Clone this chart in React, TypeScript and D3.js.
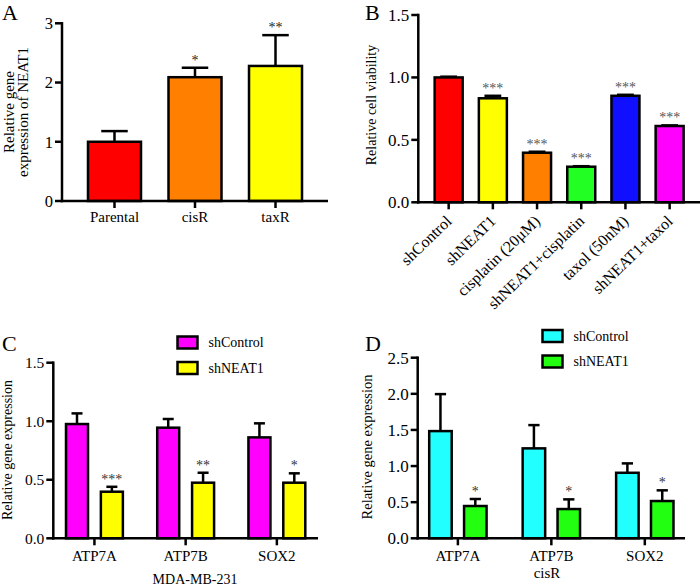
import React from "react";
import * as d3 from "d3";

const FONT = "Liberation Serif, DejaVu Serif, serif";

// Panel A: NEAT1 expression
const catsA = ["Parental", "cisR", "taxR"];
const meanA = [1.0, 2.09, 2.28];
const errA = [0.18, 0.16, 0.52];
const sigA = ["", "*", "**"];
const colorsA = ["#ff0000", "#ff8000", "#ffff00"];
const ticksA = [0, 1, 2, 3];

// Panel B: cell viability
const catsB = ["shControl", "shNEAT1", "cisplatin (20μM)", "shNEAT1+cisplatin", "taxol (50nM)", "shNEAT1+taxol"];
const meanB = [1.0, 0.833, 0.397, 0.285, 0.853, 0.611];
const errB = [0.006, 0.02, 0.008, 0.004, 0.008, 0.005];
const sigB = ["", "***", "***", "***", "***", "***"];
const colorsB = ["#ff0000", "#ffff00", "#ff8000", "#22ff22", "#1010ff", "#ff00ff"];
const ticksB = [0, 0.5, 1.0, 1.5];

// Panel C: MDA-MB-231
const genes = ["ATP7A", "ATP7B", "SOX2"];
const series = ["shControl", "shNEAT1"];
const ctrlC = [0.976, 0.945, 0.862];
const ctrlErrC = [0.091, 0.074, 0.12];
const neatC = [0.398, 0.475, 0.475];
const neatErrC = [0.042, 0.085, 0.08];
const sigC = ["***", "**", "*"];
const colorsC = ["#ff00ff", "#ffff00"];
const ticksC = [0, 0.5, 1.0, 1.5];

// Panel D: cisR
const ctrlD = [1.484, 1.245, 0.907];
const ctrlErrD = [0.512, 0.322, 0.13];
const neatD = [0.447, 0.405, 0.516];
const neatErrD = [0.097, 0.134, 0.148];
const sigD = ["*", "*", "*"];
const colorsD = ["#22ffff", "#22ff11"];
const ticksD = [0, 0.5, 1.0, 1.5, 2.0, 2.5];

const SW = 2.5;

function YAxis({ y, x0, ticks, fmt, fs }: { y: d3.ScaleLinear<number, number>; x0: number; ticks: number[]; fmt: (v: number) => string; fs: number }) {
  return (
    <g>
      <line x1={x0} x2={x0} y1={y(0) + SW / 2} y2={y(ticks[ticks.length - 1]) - SW / 2} stroke="#000" strokeWidth={SW} />
      {ticks.map((t) => (
        <g key={t}>
          <line x1={x0 - 7} x2={x0} y1={y(t)} y2={y(t)} stroke="#000" strokeWidth={SW} />
          <text x={x0 - 9} y={y(t)} dy="0.35em" textAnchor="end" fontSize={fs} fontFamily={FONT}>
            {fmt(t)}
          </text>
        </g>
      ))}
    </g>
  );
}

function XAxisLine({ y0, x0, x1, centers }: { y0: number; x0: number; x1: number; centers: number[] }) {
  return (
    <g>
      <line x1={x0 - SW / 2} x2={x1} y1={y0} y2={y0} stroke="#000" strokeWidth={SW} />
      {centers.map((c, i) => (
        <line key={i} x1={c} x2={c} y1={y0} y2={y0 + 7} stroke="#000" strokeWidth={SW} />
      ))}
    </g>
  );
}

function Bar({ cx, bw, v, e, y, fill, cap, sig, sigColor }: { cx: number; bw: number; v: number; e: number; y: d3.ScaleLinear<number, number>; fill: string; cap: number; sig: string; sigColor: string }) {
  const top = y(v);
  const et = y(v + e);
  return (
    <g>
      <line x1={cx} x2={cx} y1={top} y2={et} stroke="#000" strokeWidth={SW} />
      <line x1={cx - cap / 2} x2={cx + cap / 2} y1={et} y2={et} stroke="#000" strokeWidth={SW} />
      <rect x={cx - bw / 2} y={top} width={bw} height={y(0) - top} fill={fill} stroke="#000" strokeWidth={SW} />
      {sig && (
        <text x={cx} y={et - 3} textAnchor="middle" fontSize={14} fontFamily={FONT} fill={sigColor}>
          {sig}
        </text>
      )}
    </g>
  );
}

function PanelA() {
  const y = d3.scaleLinear().domain([0, 3]).range([201, 23.3]);
  const x = d3.scalePoint<string>().domain(catsA).range([62, 328]).padding(0.652);
  const bw = 53;
  return (
    <g>
      <text x={2} y={20} fontSize={22} fontFamily={FONT}>A</text>
      {catsA.map((c, i) => (
        <Bar key={c} cx={x(c)!} bw={bw} v={meanA[i]} e={errA[i]} y={y} fill={colorsA[i]} cap={bw * 0.5} sig={sigA[i]} sigColor="#222" />
      ))}
      <YAxis y={y} x0={62} ticks={ticksA} fmt={d3.format("d")} fs={16.5} />
      <XAxisLine y0={y(0)} x0={62} x1={328} centers={catsA.map((c) => x(c)!)} />
      {catsA.map((c) => (
        <text key={c} x={x(c)!} y={222} textAnchor="middle" fontSize={15} fontFamily={FONT}>{c}</text>
      ))}
      <g transform={`translate(14,112) rotate(-90)`}>
        <text textAnchor="middle" fontSize={15} fontFamily={FONT}>Relative gene</text>
        <text y={13.5} textAnchor="middle" fontSize={15} fontFamily={FONT}>expression of NEAT1</text>
      </g>
    </g>
  );
}

function PanelB() {
  const y = d3.scaleLinear().domain([0, 1.5]).range([202.3, 15]);
  const x = d3.scalePoint<string>().domain(catsB).range([418.3, 700]).padding(0.687);
  const bw = 28;
  return (
    <g>
      <text x={365} y={20} fontSize={22} fontFamily={FONT}>B</text>
      {catsB.map((c, i) => (
        <Bar key={c} cx={x(c)!} bw={bw} v={meanB[i]} e={errB[i]} y={y} fill={colorsB[i]} cap={bw * 0.6} sig={sigB[i]} sigColor="#555" />
      ))}
      <YAxis y={y} x0={418.3} ticks={ticksB} fmt={d3.format(".1f")} fs={17} />
      <XAxisLine y0={y(0)} x0={418.3} x1={700} centers={catsB.map((c) => x(c)!)} />
      {catsB.map((c) => (
        <text key={c} transform={`translate(${x(c)! + 4},${y(0) + 20}) rotate(-44)`} textAnchor="end" fontSize={16} fontFamily={FONT}>{c}</text>
      ))}
      <text transform={`translate(376,105) rotate(-90)`} textAnchor="middle" fontSize={14} fontFamily={FONT}>Relative cell viability</text>
    </g>
  );
}

function Grouped({ x0, x1, y, ctrl, ctrlErr, neat, neatErr, sig, colors, ticks, bw, fs }: any) {
  const xg = d3.scalePoint<string>().domain(genes).range([x0, x1]).padding(x1 - x0 > 266 ? 0.43 : 0.451);
  const xi = d3.scaleBand<string>().domain(series).range([-29.2, 29.2]).paddingInner(0.325);
  return (
    <g>
      {genes.map((g, i) => {
        const cx = xg(g)!;
        return (
          <g key={g}>
            <Bar cx={cx + xi("shControl")! + xi.bandwidth() / 2} bw={bw} v={ctrl[i]} e={ctrlErr[i]} y={y} fill={colors[0]} cap={bw * 0.5} sig="" sigColor="#222" />
            <Bar cx={cx + xi("shNEAT1")! + xi.bandwidth() / 2} bw={bw} v={neat[i]} e={neatErr[i]} y={y} fill={colors[1]} cap={bw * 0.5} sig={sig[i]} sigColor="#333" />
          </g>
        );
      })}
      <YAxis y={y} x0={x0} ticks={ticks} fmt={d3.format(".1f")} fs={fs} />
      <XAxisLine y0={y(0)} x0={x0} x1={x1} centers={genes.map((g) => xg(g)!)} />
      {genes.map((g) => (
        <text key={g} x={xg(g)!} y={561} textAnchor="middle" fontSize={15} fontFamily={FONT}>{g}</text>
      ))}
    </g>
  );
}

function Legend({ x, y0, colors }: { x: number; y0: number; colors: string[] }) {
  return (
    <g>
      {series.map((s, i) => (
        <g key={s} transform={`translate(${x},${y0 + i * 25.5})`}>
          <rect x={0} y={0} width={20} height={12} fill={colors[i]} stroke="#000" strokeWidth={SW} />
          <text x={31} y={6} dy="0.35em" fontSize={14} fontFamily={FONT}>{s}</text>
        </g>
      ))}
    </g>
  );
}

function PanelC() {
  const y = d3.scaleLinear().domain([0, 1.5]).range([538.3, 362.7]);
  return (
    <g>
      <text x={2} y={351} fontSize={22} fontFamily={FONT}>C</text>
      <Grouped x0={53.3} x1={318} y={y} ctrl={ctrlC} ctrlErr={ctrlErrC} neat={neatC} neatErr={neatErrC} sig={sigC} colors={colorsC} ticks={ticksC} bw={22} fs={15.5} />
      <Legend x={177.5} y0={336.5} colors={colorsC} />
      <text x={195} y={584} textAnchor="middle" fontSize={14} fontFamily={FONT}>MDA-MB-231</text>
      <text transform={`translate(12,450) rotate(-90)`} textAnchor="middle" fontSize={14} fontFamily={FONT}>Relative gene expression</text>
    </g>
  );
}

function PanelD() {
  const y = d3.scaleLinear().domain([0, 2.5]).range([538.3, 357.7]);
  return (
    <g>
      <text x={365} y={351} fontSize={22} fontFamily={FONT}>D</text>
      <Grouped x0={417.7} x1={685} y={y} ctrl={ctrlD} ctrlErr={ctrlErrD} neat={neatD} neatErr={neatErrD} sig={sigD} colors={colorsD} ticks={ticksD} bw={22.5} fs={17} />
      <Legend x={542.5} y0={330} colors={colorsD} />
      <text x={547} y={578} textAnchor="middle" fontSize={15} fontFamily={FONT}>cisR</text>
      <text transform={`translate(372,447) rotate(-90)`} textAnchor="middle" fontSize={14.5} fontFamily={FONT}>Relative gene expression</text>
    </g>
  );
}

export default function App() {
  return (
    <svg width={700} height={586} style={{ position: "absolute", left: 0, top: 0, background: "#fff" }}>
      <rect width={700} height={586} fill="#fff" />
      <PanelA />
      <PanelB />
      <PanelC />
      <PanelD />
    </svg>
  );
}
